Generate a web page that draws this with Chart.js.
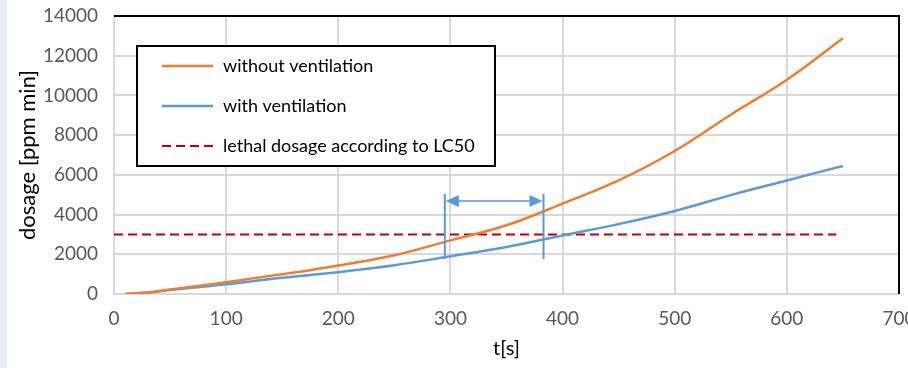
<!DOCTYPE html>
<html>
<head>
<meta charset="utf-8">
<script src="https://cdn.jsdelivr.net/npm/chart.js@4/dist/chart.umd.min.js"></script>
<style>
  html, body { margin: 0; padding: 0; background: #fff; }
  body { width: 908px; height: 368px; position: relative; overflow: hidden; }
  #strip { position: absolute; left: 0; top: 0; width: 7px; height: 368px; background: #e7ebf7; }
  canvas { position: absolute; left: 0; top: 0; }
</style>
</head>
<body>
<div id="strip"></div>
<canvas id="chart" width="908" height="368"></canvas>
<script>
const time = [10, 30, 50, 75, 100, 125, 150, 175, 200, 250, 300, 350, 400, 450, 500, 550, 600, 650];
const withoutVent = [0, 80, 230, 400, 590, 800, 1000, 1200, 1430, 1950, 2700, 3460, 4550, 5720, 7200, 9030, 10790, 12880];
const withVent = [0, 70, 200, 340, 490, 650, 820, 960, 1100, 1450, 1900, 2370, 2950, 3520, 4180, 4980, 5720, 6450];
const lc50 = 3000;
const lc50Time = [0, 644];
const arrowTime = [295, 383];
const arrowSpan = [1760, 5030];
const arrowLevel = 4680;
const labels = ['without ventilation', 'with ventilation', 'lethal dosage according to LC50'];

const FONT = 'Lato, "Open Sans", sans-serif';

const toXY = (xs, ys) => xs.map((x, i) => ({ x: x, y: ys[i] }));

const framePlugin = {
  id: 'frame',
  afterDatasetsDraw(chart) {
    const { ctx, chartArea: a, scales } = chart;
    ctx.save();
    // black top + right border
    ctx.strokeStyle = '#000';
    ctx.lineWidth = 2;
    ctx.beginPath();
    ctx.moveTo(a.left, a.top);
    ctx.lineTo(a.right, a.top);
    ctx.lineTo(a.right, a.bottom);
    ctx.stroke();

    // time-span arrow
    const x1 = scales.x.getPixelForValue(arrowTime[0]);
    const x2 = scales.x.getPixelForValue(arrowTime[1]);
    const yTop = scales.y.getPixelForValue(arrowSpan[1]);
    const yBot = scales.y.getPixelForValue(arrowSpan[0]);
    const yA = scales.y.getPixelForValue(arrowLevel);
    ctx.strokeStyle = '#5b9bd5';
    ctx.fillStyle = '#5b9bd5';
    ctx.lineWidth = 2;
    ctx.beginPath();
    ctx.moveTo(x1, yTop); ctx.lineTo(x1, yBot);
    ctx.moveTo(x2, yTop); ctx.lineTo(x2, yBot);
    ctx.stroke();
    ctx.lineWidth = 1.5;
    ctx.beginPath();
    ctx.moveTo(x1 + 10, yA); ctx.lineTo(x2 - 10, yA);
    ctx.stroke();
    ctx.beginPath();
    ctx.moveTo(x1 + 1, yA); ctx.lineTo(x1 + 14, yA - 6); ctx.lineTo(x1 + 14, yA + 6); ctx.closePath();
    ctx.moveTo(x2 - 1, yA); ctx.lineTo(x2 - 14, yA - 6); ctx.lineTo(x2 - 14, yA + 6); ctx.closePath();
    ctx.fill();

    // legend box
    const bx = a.left + 23, by = a.top + 30, bw = 358, bh = 120;
    ctx.fillStyle = '#fff';
    ctx.fillRect(bx, by, bw, bh);
    ctx.strokeStyle = '#000';
    ctx.lineWidth = 2;
    ctx.strokeRect(bx, by, bw, bh);
    ctx.font = '18px ' + FONT;
    ctx.textBaseline = 'middle';
    chart.data.datasets.forEach((ds, i) => {
      const yy = by + 20 + i * 40;
      ctx.strokeStyle = ds.borderColor;
      ctx.lineWidth = ds.borderWidth;
      ctx.setLineDash(ds.borderDash || []);
      ctx.beginPath();
      ctx.moveTo(bx + 25, yy); ctx.lineTo(bx + 76, yy);
      ctx.stroke();
      ctx.setLineDash([]);
      ctx.fillStyle = '#000';
      ctx.fillText(ds.label, bx + 86, yy);
    });
    ctx.restore();
  }
};

new Chart(document.getElementById('chart'), {
  type: 'line',
  data: {
    datasets: [
      {
        label: labels[0],
        data: toXY(time, withoutVent),
        borderColor: '#ed7d31',
        borderWidth: 2.5,
        pointRadius: 0,
        tension: 0.4
      },
      {
        label: labels[1],
        data: toXY(time, withVent),
        borderColor: '#5b9bd5',
        borderWidth: 2.5,
        pointRadius: 0,
        tension: 0.4
      },
      {
        label: labels[2],
        data: toXY(lc50Time, [lc50, lc50]),
        borderColor: '#c00000',
        borderWidth: 2,
        borderDash: [9, 5],
        pointRadius: 0
      }
    ]
  },
  options: {
    responsive: false,
    animation: false,
    layout: { padding: { left: 8, right: 9, top: 16, bottom: 0 } },
    plugins: { legend: { display: false }, tooltip: { enabled: false } },
    scales: {
      x: {
        type: 'linear',
        min: 0, max: 700,
        ticks: { stepSize: 100, color: '#595959', font: { family: FONT, size: 19 }, padding: 13, maxRotation: 0 },
        grid: { color: '#d9d9d9', lineWidth: 2, drawTicks: false },
        border: { color: '#d9d9d9', width: 2 },
        title: { display: true, text: 't[s]', color: '#000', font: { family: FONT, size: 20 }, padding: { top: 4, bottom: 7 } },
        afterFit(s) { s.height = 74; s.paddingLeft = 0; s.paddingRight = 0; }
      },
      y: {
        min: 0, max: 14000,
        ticks: { stepSize: 2000, color: '#595959', font: { family: FONT, size: 19 }, padding: 16, callback: v => String(v) },
        grid: { color: '#d9d9d9', lineWidth: 2, drawTicks: false },
        border: { color: '#d9d9d9', width: 2 },
        title: { display: true, text: 'dosage [ppm min]', color: '#000', font: { family: FONT, size: 22 }, padding: { top: 7, bottom: 4 } },
        afterFit(s) { s.width = 106; s.paddingTop = 0; s.paddingBottom = 0; }
      }
    }
  },
  plugins: [framePlugin]
});
</script>
</body>
</html>
